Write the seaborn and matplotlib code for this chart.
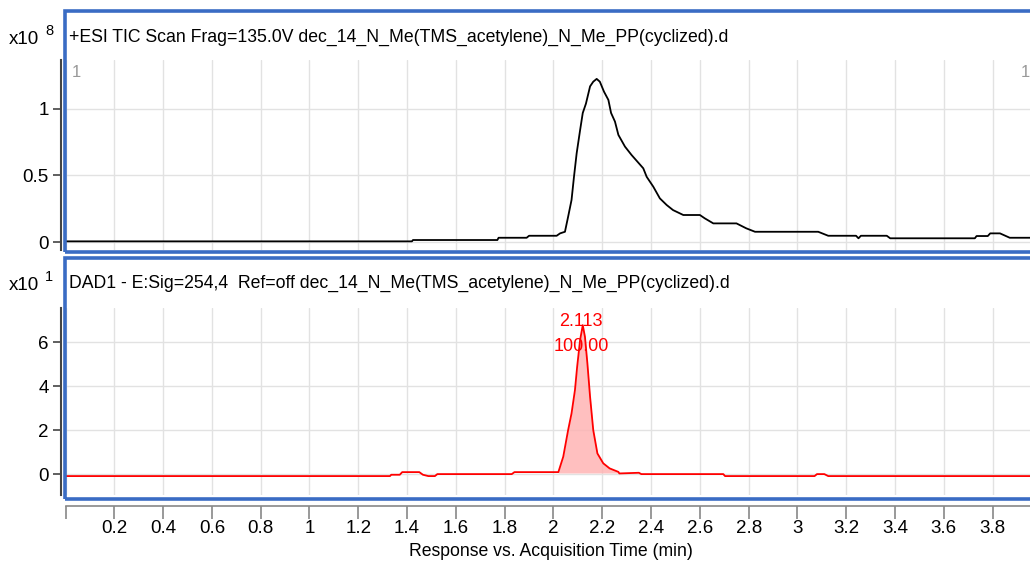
import matplotlib
matplotlib.use("Agg")
import matplotlib.pyplot as plt
from matplotlib import font_manager
from matplotlib.patches import Rectangle
import seaborn as sns
import pandas as pd

# TIC trace (x10^8 counts)
tic_time = [0, 1.42, 1.424, 1.77, 1.775, 1.89, 1.90, 2.013, 2.027, 2.047,
            2.06, 2.074, 2.084, 2.095, 2.109, 2.12, 2.133, 2.15, 2.163, 2.177,
            2.19, 2.207, 2.225, 2.236, 2.252, 2.266, 2.293, 2.32, 2.368, 2.382,
            2.409, 2.436, 2.464, 2.49, 2.532, 2.6, 2.62, 2.655, 2.75, 2.79,
            2.826, 3.085, 3.126, 3.24, 3.25, 3.26, 3.366, 3.38, 3.727, 3.734,
            3.78, 3.79, 3.83, 3.87, 3.96]
tic_resp = [0.005, 0.005, 0.015, 0.015, 0.032, 0.032, 0.047, 0.047, 0.065, 0.077,
            0.19, 0.316, 0.49, 0.667, 0.84, 0.97, 1.04, 1.17, 1.205, 1.226,
            1.205, 1.13, 1.068, 0.97, 0.905, 0.805, 0.717, 0.654, 0.554, 0.49,
            0.416, 0.328, 0.278, 0.24, 0.203, 0.203, 0.178, 0.14, 0.14, 0.103,
            0.077, 0.077, 0.047, 0.047, 0.028, 0.047, 0.047, 0.028, 0.028, 0.045,
            0.045, 0.065, 0.065, 0.032, 0.032]

# DAD trace (x10^1 mAU)
dad_time = [0, 1.33, 1.335, 1.37, 1.38, 1.45, 1.465, 1.487, 1.514, 1.524,
            1.829, 1.84, 2.02, 2.04, 2.06, 2.074, 2.088, 2.097, 2.109, 2.12,
            2.129, 2.139, 2.15, 2.163, 2.18, 2.204, 2.23, 2.266, 2.27, 2.35,
            2.36, 2.696, 2.703, 3.07, 3.08, 3.11, 3.126, 3.96]
dad_resp = [-0.09, -0.09, -0.03, -0.03, 0.09, 0.09, -0.03, -0.09, -0.09, 0.0,
            0.0, 0.09, 0.09, 0.79, 2.0, 2.76, 3.82, 4.88, 6.09, 6.77,
            6.24, 5.03, 3.51, 2.0, 0.94, 0.49, 0.26, 0.1, 0.03, 0.06,
            0.0, 0.0, -0.09, -0.09, 0.0, 0.0, -0.09, -0.09]

peak_rt = "2.113"
peak_area = "100.00"
peak_label_y = [6.95, 5.82]

x_ticks = [0.2, 0.4, 0.6, 0.8, 1, 1.2, 1.4, 1.6, 1.8, 2, 2.2, 2.4, 2.6, 2.8, 3, 3.2, 3.4, 3.6, 3.8]
x_ticklabels = ["0.2", "0.4", "0.6", "0.8", "1", "1.2", "1.4", "1.6", "1.8", "2",
                "2.2", "2.4", "2.6", "2.8", "3", "3.2", "3.4", "3.6", "3.8"]
tic_yticks = [0, 0.5, 1]
tic_yticklabels = ["0", "0.5", "1"]
dad_yticks = [0, 2, 4, 6]
dad_yticklabels = ["0", "2", "4", "6"]

tic_title = "+ESI TIC Scan Frag=135.0V dec_14_N_Me(TMS_acetylene)_N_Me_PP(cyclized).d"
dad_title = "DAD1 - E:Sig=254,4  Ref=off dec_14_N_Me(TMS_acetylene)_N_Me_PP(cyclized).d"
x_label = "Response vs. Acquisition Time (min)"

tic_df = pd.DataFrame({"time": tic_time, "resp": tic_resp})
dad_df = pd.DataFrame({"time": dad_time, "resp": dad_resp})

sns.set_theme(style="white")
names = {f.name for f in font_manager.fontManager.ttflist}
base_font = "Liberation Sans Narrow" if "Liberation Sans Narrow" in names else "Liberation Sans"
plt.rcParams['font.family'] = [base_font, 'DejaVu Sans']

W, H = 1030, 564
BLUE = "#3a6cc4"
GRID = "#e2e2e2"
FS_TITLE = 12.7
FS_TICK = 13.5

fig = plt.figure(figsize=(W / 100, H / 100), dpi=100)


def px_axes(x0, y0, x1, y1):
    return fig.add_axes([x0 / W, 1 - y1 / H, (x1 - x0) / W, (y1 - y0) / H])


def frame(x0, y0, x1, y1):
    fig.add_artist(Rectangle((x0 / W, 1 - y1 / H), (x1 - x0) / W, (y1 - y0) / H,
                             transform=fig.transFigure, fill=False, ec=BLUE, lw=2.6, zorder=5))


ax1 = px_axes(65.5, 60, 1030, 250)
ax2 = px_axes(65.5, 308, 1030, 495)

sns.lineplot(data=tic_df, x="time", y="resp", ax=ax1, color="black", lw=1.3,
             sort=False, estimator=None)
sns.lineplot(data=dad_df, x="time", y="resp", ax=ax2, color="red", lw=1.3,
             sort=False, estimator=None)

# integrated peak area shading
mask = (dad_df["time"] >= 2.0) & (dad_df["time"] <= 2.3)
ax2.fill_between(dad_df["time"][mask], dad_df["resp"][mask], 0.05, color="#ffb0b0", alpha=0.8, lw=0)
ax2.text(2.113, peak_label_y[0], peak_rt, color="red", ha="center", va="center", fontsize=13)
ax2.text(2.113, peak_label_y[1], peak_area, color="red", ha="center", va="center", fontsize=13)

ax1.set_ylim(-0.06, 1.368)
ax2.set_ylim(-0.95, 7.55)

for ax, yt, ytl in [(ax1, tic_yticks, tic_yticklabels), (ax2, dad_yticks, dad_yticklabels)]:
    ax.set_xlim(0, 3.953)
    ax.set_xticks([0] + x_ticks)
    ax.set_yticks(yt)
    ax.set_yticklabels(ytl)
    ax.grid(True, color=GRID, lw=1)
    ax.set_xlabel("")
    ax.set_ylabel("")
    for s in ["top", "right", "bottom"]:
        ax.spines[s].set_visible(False)
    ax.spines["left"].set_position(("outward", 3))
    ax.spines["left"].set_color("#444444")
    ax.spines["left"].set_linewidth(1.5)
    ax.tick_params(axis="y", which="both", left=True, length=6, width=1.2, color="#444444",
                   pad=3, labelcolor="black", labelsize=FS_TICK)

ax1.tick_params(axis="x", bottom=False, labelbottom=False)

ax2.spines["bottom"].set_visible(True)
ax2.spines["bottom"].set_position(("outward", 8))
ax2.spines["bottom"].set_color("#888888")
ax2.spines["bottom"].set_linewidth(1.2)
ax2.set_xticklabels([""] + x_ticklabels)
ax2.tick_params(axis="x", bottom=True, length=9, width=1.2, color="#888888", pad=1,
                labelcolor="black", labelsize=FS_TICK)

# panel frames
frame(64.5, 11, 1034, 252)
frame(64.5, 258, 1034, 499)

fig.text(69 / W, 1 - 37 / H, tic_title, fontsize=FS_TITLE, ha="left", va="center", color="black")
fig.text(69 / W, 1 - 283 / H, dad_title, fontsize=FS_TITLE, ha="left", va="center", color="black")
fig.text(72 / W, 1 - 73 / H, "1", fontsize=12, ha="left", va="center", color="#999999")
fig.text(1021 / W, 1 - 73 / H, "1", fontsize=12, ha="left", va="center", color="#999999")

for yc, exp in [(37, "8"), (283, "1")]:
    fig.text(9 / W, 1 - (yc + 2) / H, "x10", fontsize=FS_TICK, ha="left", va="center", color="black")
    fig.text(45 / W, 1 - (yc - 6) / H, exp, fontsize=10.5, ha="left", va="center", color="black")

fig.text(551 / W, 1 - 552 / H, x_label, fontsize=FS_TITLE, ha="center", va="center", color="black")

fig.savefig("out.png", dpi=100)
